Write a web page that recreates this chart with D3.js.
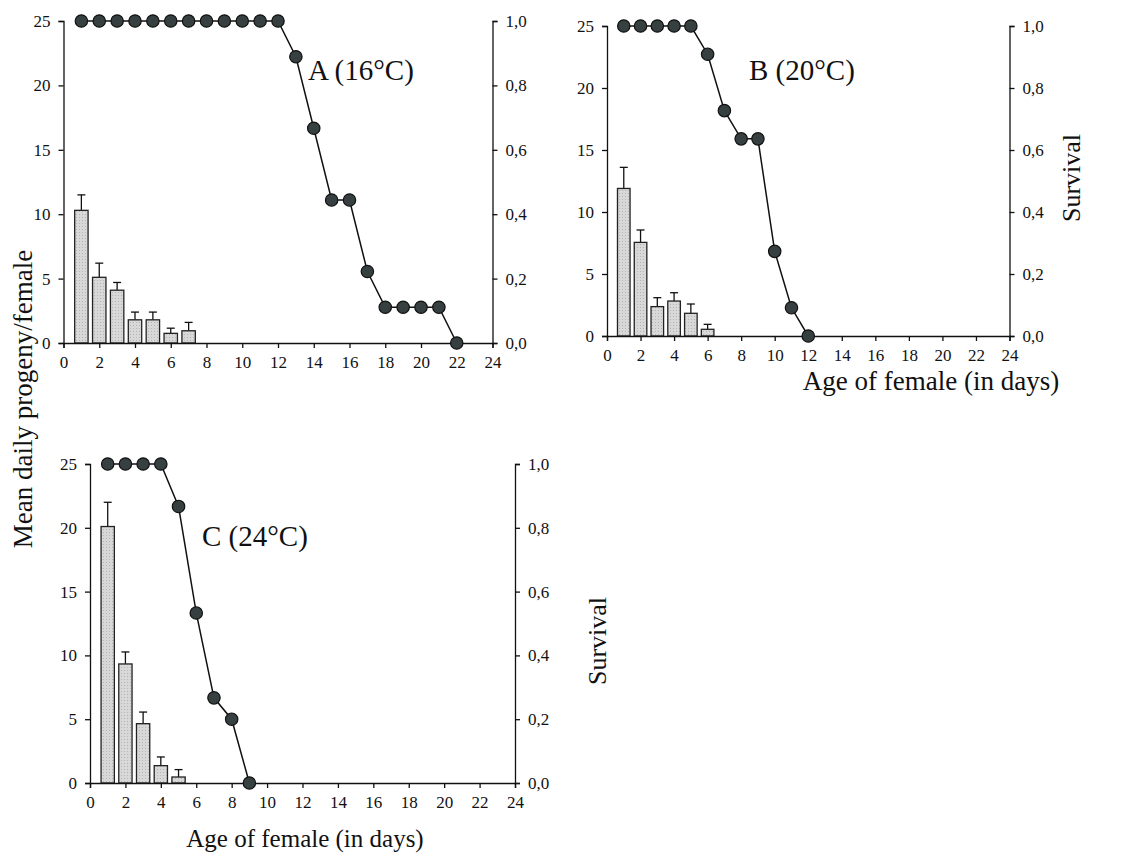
<!DOCTYPE html>
<html>
<head>
<meta charset="utf-8">
<script src="https://cdn.jsdelivr.net/npm/d3@7"></script>
<style>
  body { margin: 0; background: #fff; }
  svg { display: block; }
  text { font-family: "Liberation Serif", "Times New Roman", serif; fill: #111; }
  .axis path, .axis line { stroke: #111; stroke-width: 1.3; }
</style>
</head>
<body>
<svg width="1136" height="865"></svg>
<script>
// tick labels
var dayTicks = [0, 2, 4, 6, 8, 10, 12, 14, 16, 18, 20, 22, 24];
var progenyTicks = [0, 5, 10, 15, 20, 25];
var survivalTicks = [0, 0.2, 0.4, 0.6, 0.8, 1.0];

// A (16°C) - mean progeny, upper error, survival by day (day = index + 1)
var progenyA = [10.3, 5.1, 4.1, 1.8, 1.8, 0.75, 0.95];
var errorA = [1.2, 1.1, 0.6, 0.6, 0.6, 0.4, 0.65];
var survivalA = [1, 1, 1, 1, 1, 1, 1, 1, 1, 1, 1, 1, 0.889, 0.667, 0.444, 0.444, 0.222, 0.111, 0.111, 0.111, 0.111, 0];

// B (20°C)
var progenyB = [11.9, 7.55, 2.37, 2.82, 1.83, 0.54];
var errorB = [1.7, 1.0, 0.72, 0.67, 0.75, 0.4];
var survivalB = [1, 1, 1, 1, 1, 0.909, 0.727, 0.636, 0.636, 0.273, 0.091, 0];

// C (24°C)
var progenyC = [20.1, 9.33, 4.65, 1.36, 0.47];
var errorC = [1.9, 0.94, 0.91, 0.68, 0.58];
var survivalC = [1, 1, 1, 1, 0.867, 0.533, 0.267, 0.2, 0];

var svg = d3.select('svg');

var fmtSurv = function(d) { return d.toFixed(1).replace('.', ','); };

function styleAxis(sel) {
    sel.attr('font-size', 17)
       .attr('font-family', '"Liberation Serif", serif');
}

function drawPanel(p) {
    var x = d3.scaleLinear().domain([0, 24]).range([p.left, p.right]),
        y = d3.scaleLinear().domain([0, 25]).range([p.bottom, p.top]),
        y2 = d3.scaleLinear().domain([0, 1]).range([p.bottom, p.top]);

    var g = svg.append('g');
    var barW = (x(1) - x(0)) * 0.75;

    var bars = p.progeny.map(function(v, i) { return {day: i + 1, v: v, e: p.error[i]}; });
    var surv = p.survival.map(function(v, i) { return {day: i + 1, v: v}; });

    // error bars (upper only)
    g.selectAll('.err').data(bars).enter().append('line')
        .attr('x1', function(d) { return x(d.day); })
        .attr('x2', function(d) { return x(d.day); })
        .attr('y1', function(d) { return y(d.v); })
        .attr('y2', function(d) { return y(d.v + d.e); })
        .attr('stroke', '#111').attr('stroke-width', 1.3);
    g.selectAll('.cap').data(bars).enter().append('line')
        .attr('x1', function(d) { return x(d.day) - 4; })
        .attr('x2', function(d) { return x(d.day) + 4; })
        .attr('y1', function(d) { return y(d.v + d.e); })
        .attr('y2', function(d) { return y(d.v + d.e); })
        .attr('stroke', '#111').attr('stroke-width', 1.3);

    g.selectAll('.bar').data(bars).enter().append('rect')
        .attr('x', function(d) { return x(d.day) - barW / 2; })
        .attr('y', function(d) { return y(d.v); })
        .attr('width', barW)
        .attr('height', function(d) { return y(0) - y(d.v); })
        .attr('fill', 'url(#stipple)')
        .attr('stroke', '#222').attr('stroke-width', 1.3);

    // axes
    g.append('g').attr('class', 'axis')
        .attr('transform', 'translate(0,' + p.bottom + ')')
        .call(d3.axisBottom(x).tickValues(dayTicks).tickSizeOuter(0).tickSize(5).tickPadding(8))
        .call(styleAxis);
    g.append('g').attr('class', 'axis')
        .attr('transform', 'translate(' + p.left + ',0)')
        .call(d3.axisLeft(y).tickValues(progenyTicks).tickSizeOuter(0).tickSize(5).tickPadding(8))
        .call(styleAxis);
    g.append('g').attr('class', 'axis')
        .attr('transform', 'translate(' + p.right + ',0)')
        .call(d3.axisRight(y2).tickValues(survivalTicks).tickFormat(fmtSurv).tickSizeOuter(0).tickSize(5).tickPadding(8))
        .call(styleAxis);

    // survival line + dots
    var line = d3.line().x(function(d) { return x(d.day); }).y(function(d) { return y2(d.v); });
    g.append('path').datum(surv)
        .attr('d', line).attr('fill', 'none')
        .attr('stroke', '#111').attr('stroke-width', 1.5);
    g.selectAll('.dot').data(surv).enter().append('circle')
        .attr('cx', function(d) { return x(d.day); })
        .attr('cy', function(d) { return y2(d.v); })
        .attr('r', 6.2)
        .attr('fill', '#364040')
        .attr('stroke', '#111').attr('stroke-width', 1.2);

    g.append('text')
        .attr('x', p.labelX).attr('y', p.labelY)
        .style('font-size', '29px')
        .text(p.label);
}

// stipple fill for bars
var pat = svg.append('defs').append('pattern')
    .attr('id', 'stipple').attr('patternUnits', 'userSpaceOnUse')
    .attr('width', 3).attr('height', 3);
pat.append('rect').attr('width', 3).attr('height', 3).attr('fill', '#d8d8d8');
pat.append('rect').attr('x', 1).attr('y', 1).attr('width', 1).attr('height', 1).attr('fill', '#b4b4b4');

drawPanel({left: 63.5, right: 492.5, top: 21, bottom: 343,
           progeny: progenyA, error: errorA, survival: survivalA,
           label: 'A (16°C)', labelX: 308, labelY: 80});
drawPanel({left: 607, right: 1009.5, top: 26, bottom: 336,
           progeny: progenyB, error: errorB, survival: survivalB,
           label: 'B (20°C)', labelX: 749, labelY: 80});
drawPanel({left: 90, right: 515, top: 464, bottom: 783,
           progeny: progenyC, error: errorC, survival: survivalC,
           label: 'C (24°C)', labelX: 202, labelY: 546});

// axis titles
svg.append('text')
    .attr('transform', 'translate(32,399) rotate(-90)')
    .style('text-anchor', 'middle').style('font-size', '27px')
    .text('Mean daily progeny/female');
svg.append('text')
    .attr('transform', 'translate(1080,178) rotate(-90)')
    .style('text-anchor', 'middle').style('font-size', '26px')
    .text('Survival');
svg.append('text')
    .attr('transform', 'translate(606,641) rotate(-90)')
    .style('text-anchor', 'middle').style('font-size', '26px')
    .text('Survival');
svg.append('text')
    .attr('x', 931).attr('y', 390)
    .style('text-anchor', 'middle').style('font-size', '27px')
    .text('Age of female (in days)');
svg.append('text')
    .attr('x', 305).attr('y', 847)
    .style('text-anchor', 'middle').style('font-size', '25px')
    .text('Age of female (in days)');
</script>
</body>
</html>
